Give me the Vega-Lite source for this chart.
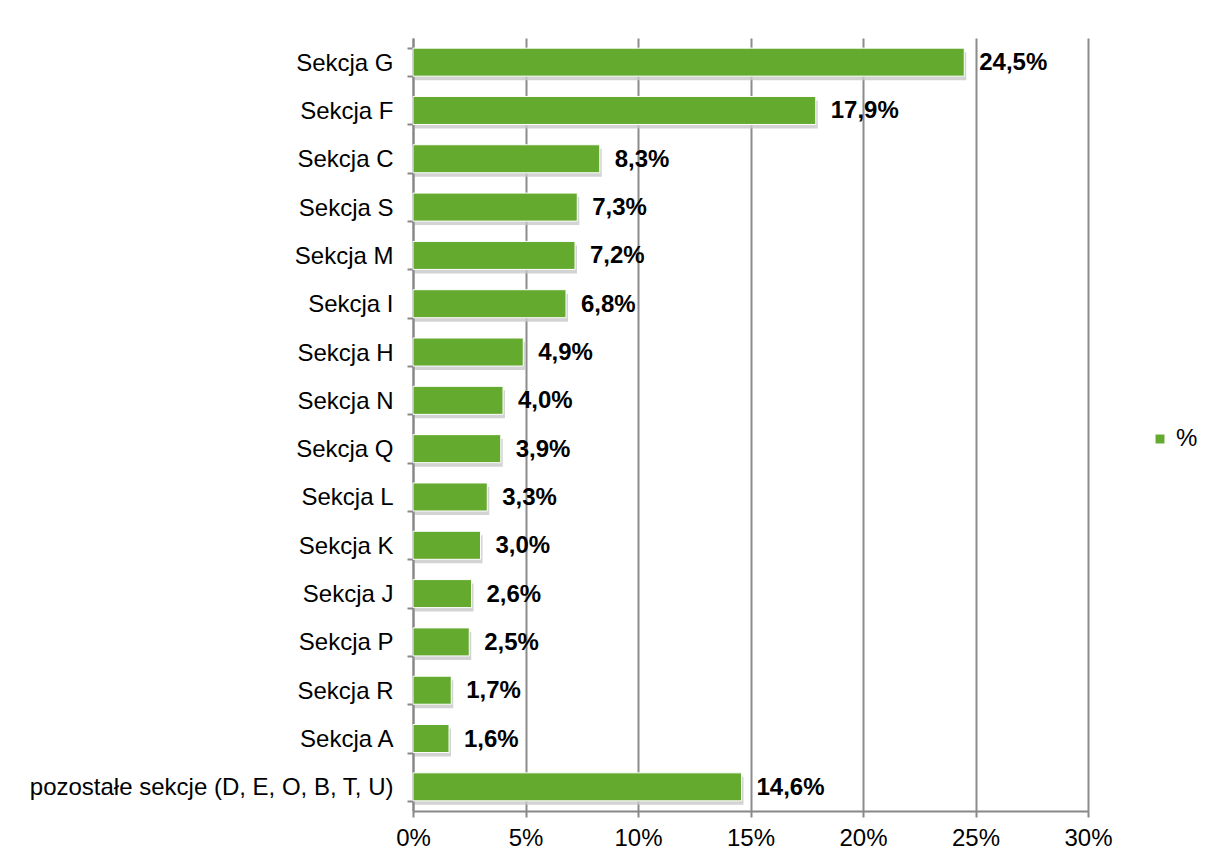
{
  "$schema": "https://vega.github.io/schema/vega-lite/v6.json",
  "width": 675,
  "height": 773,
  "autosize": {"type": "none"},
  "padding": {"left": 413, "top": 38, "right": 118, "bottom": 51},
  "background": "white",
  "config": {
    "locale": {"number": {"decimal": ",", "thousands": " ", "grouping": [3], "currency": ["", " zł"]}},
    "font": "Liberation Sans",
    "view": {"stroke": null}
  },
  "data": {
    "values": [
      {"sekcja": "Sekcja G", "v": 0.245},
      {"sekcja": "Sekcja F", "v": 0.179},
      {"sekcja": "Sekcja C", "v": 0.083},
      {"sekcja": "Sekcja S", "v": 0.073},
      {"sekcja": "Sekcja M", "v": 0.072},
      {"sekcja": "Sekcja I", "v": 0.068},
      {"sekcja": "Sekcja H", "v": 0.049},
      {"sekcja": "Sekcja N", "v": 0.040},
      {"sekcja": "Sekcja Q", "v": 0.039},
      {"sekcja": "Sekcja L", "v": 0.033},
      {"sekcja": "Sekcja K", "v": 0.030},
      {"sekcja": "Sekcja J", "v": 0.026},
      {"sekcja": "Sekcja P", "v": 0.025},
      {"sekcja": "Sekcja R", "v": 0.017},
      {"sekcja": "Sekcja A", "v": 0.016},
      {"sekcja": "pozostałe sekcje (D, E, O, B, T, U)", "v": 0.146}
    ]
  },
  "encoding": {
    "y": {
      "field": "sekcja", "type": "nominal", "sort": null,
      "scale": {"paddingInner": 0.42, "paddingOuter": 0.21},
      "axis": {
        "title": null, "grid": false, "tickBand": "extent",
        "domainColor": "#888888", "domainWidth": 2, "tickColor": "#888888", "tickWidth": 2, "tickSize": 6,
        "labelFontSize": 24, "labelColor": "#000000", "labelPadding": 14, "labelLimit": 420, "labelOffset": 1
      }
    },
    "x": {
      "field": "v", "type": "quantitative",
      "scale": {"domain": [0, 0.3], "nice": false},
      "axis": {
        "title": null, "format": ".0%", "values": [0, 0.05, 0.1, 0.15, 0.2, 0.25, 0.3],
        "labelOverlap": false, "labelFlush": false,
        "grid": true, "gridColor": "#8c8c8c", "gridWidth": 2, "gridOpacity": 1,
        "domainColor": "#888888", "domainWidth": 2, "tickColor": "#888888", "tickWidth": 2, "tickSize": 6,
        "labelFontSize": 24, "labelColor": "#000000", "labelPadding": 9
      }
    }
  },
  "layer": [
    {
      "mark": {"type": "bar", "color": "#c8c8c8", "yOffset": 4, "xOffset": 2, "opacity": 0.8}
    },
    {
      "mark": {"type": "bar", "stroke": "#ffffff", "strokeWidth": 1},
      "encoding": {
        "color": {
          "datum": "%", "type": "nominal",
          "scale": {"range": ["#63aa2f"]},
          "legend": {
            "title": null, "orient": "none", "legendX": 735, "legendY": 389,
            "symbolType": "square", "symbolSize": 80, "labelFontSize": 24, "labelColor": "#000000", "symbolStrokeWidth": 0, "labelOffset": 4
          }
        }
      }
    },
    {
      "mark": {"type": "text", "align": "left", "baseline": "middle", "dx": 15, "dy": 1, "fontSize": 24, "fontWeight": "bold", "color": "#000000"},
      "encoding": {
        "text": {"field": "v", "type": "quantitative", "format": ".1%"}
      }
    }
  ]
}
